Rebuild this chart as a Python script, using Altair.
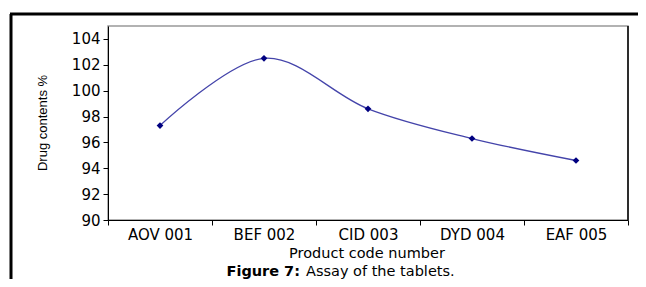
import altair as alt
import pandas as pd

products = ["AOV 001", "BEF 002", "CID 003", "DYD 004", "EAF 005"]
drug_contents = [97.3, 102.5, 98.6, 96.3, 94.6]
y_ticks = [90, 92, 94, 96, 98, 100, 102, 104]

df = pd.DataFrame({"product": products, "value": drug_contents})

W, H = 520, 194
FONT = "DejaVu Sans"

x_enc = alt.X("product:N", sort=products, bandPosition=0.5,
              scale=alt.Scale(type="band", paddingInner=0, paddingOuter=0),
              axis=alt.Axis(title=None, labelAngle=0, tickBand="extent",
                            labelFont=FONT, labelFontSize=15, labelColor="black",
                            labelPadding=2, tickSize=5, tickColor="black",
                            domainColor="black", grid=False))
y_enc = alt.Y("value:Q",
              scale=alt.Scale(domain=[90, 105], nice=False, zero=False),
              axis=alt.Axis(title=None, values=y_ticks, labelFont=FONT,
                            labelFontSize=15, labelColor="black", labelPadding=3,
                            tickSize=5, tickColor="black", domainColor="black",
                            grid=False))

base = alt.Chart(df)
line = base.mark_line(interpolate="cardinal", color="#4444aa", strokeWidth=1.3).encode(x=x_enc, y=y_enc)
pts = base.mark_point(shape="diamond", filled=True, size=45, color="#000080", opacity=1).encode(x=x_enc, y=y_enc)

one = alt.Data(values=[{"a": 1}])

right_border = alt.Chart(one).mark_rule(color="black", strokeWidth=1.5).encode(
    x=alt.value(W), y=alt.value(0), y2=alt.value(H))
frame_left = alt.Chart(one).mark_rule(color="black", strokeWidth=3).encode(
    x=alt.value(-97), y=alt.value(-12), y2=alt.value(300))
frame_top = alt.Chart(one).mark_rule(color="black", strokeWidth=3).encode(
    x=alt.value(-98), x2=alt.value(700), y=alt.value(-12))

y_title = alt.Chart(one).mark_text(
    text="Drug contents %", angle=270, font="Liberation Sans",
    fontSize=13, color="black", baseline="middle", align="center").encode(
    x=alt.value(-65), y=alt.value(97))
x_title = alt.Chart(one).mark_text(
    text="Product code number", font=FONT, fontSize=14.5, color="black",
    baseline="middle", align="center").encode(x=alt.value(259), y=alt.value(228))
cap_bold = alt.Chart(one).mark_text(
    text="Figure 7:", font=FONT, fontSize=14.5, fontWeight="bold", color="black",
    baseline="middle", align="right").encode(x=alt.value(192), y=alt.value(246))
cap_reg = alt.Chart(one).mark_text(
    text="Assay of the tablets.", font=FONT, fontSize=14.5, color="black",
    baseline="middle", align="left").encode(x=alt.value(198), y=alt.value(246))

chart = alt.layer(line, pts, right_border, frame_left, frame_top,
                  y_title, x_title, cap_bold, cap_reg).properties(
    width=W, height=H,
    autosize=alt.AutoSizeParams(type="none"),
    padding={"left": 100, "top": 18, "right": 10, "bottom": 59},
    background="white",
).configure_view(stroke="#999999", strokeWidth=1.5)

chart.save("out.html", embed_options={"renderer": "svg", "actions": False})
